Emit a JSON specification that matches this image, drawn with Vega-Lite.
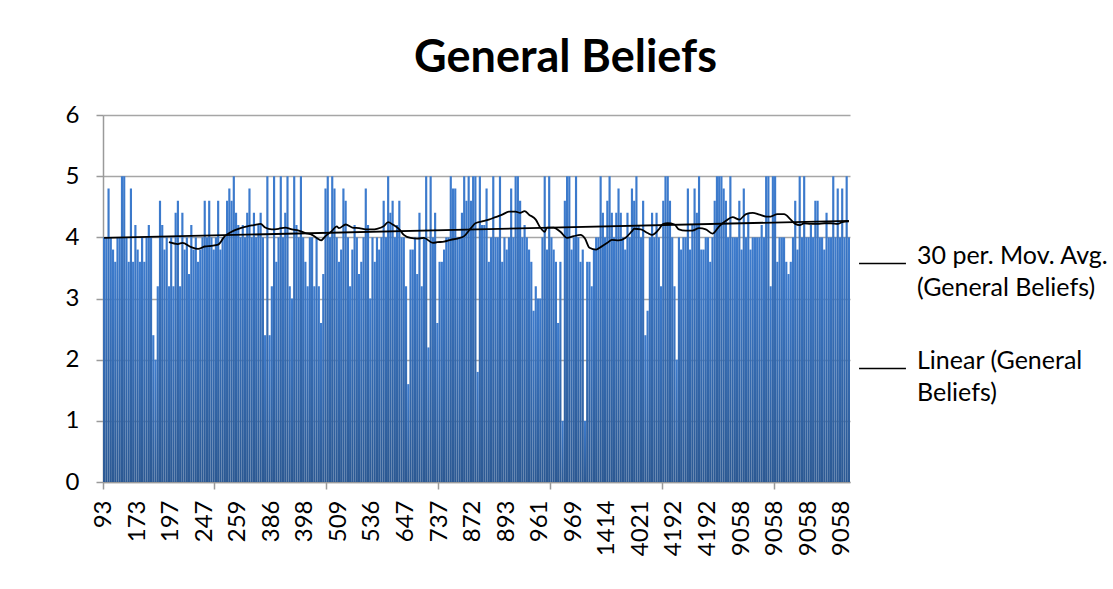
{
  "$schema": "https://vega.github.io/schema/vega-lite/v6.json",
  "autosize": {"type": "none"},
  "padding": {"left": 103, "top": 115, "right": 263, "bottom": 107},
  "width": 747,
  "height": 367,
  "background": "white",
  "config": {
    "font": "Lato",
    "view": {"stroke": null},
    "style": {"guide-label": {"lineHeight": 32}},
    "axis": {"labelColor": "black", "labelFontSize": 24, "labelFont": "Lato"}
  },
  "title": {
    "text": "General Beliefs",
    "font": "Lato",
    "fontSize": 45,
    "fontWeight": "bold",
    "color": "black",
    "anchor": "middle",
    "frame": "group",
    "baseline": "alphabetic",
    "offset": 43,
    "dy": 57,
    "dx": 89
  },
  "datasets": {
    "bars": [
      {"i":0,"v":4},{"i":1,"v":4},{"i":2,"v":4.8},{"i":3,"v":4},{"i":4,"v":3.8},{"i":5,"v":3.6},{"i":6,"v":4},{"i":7,"v":4},{"i":8,"v":5},{"i":9,"v":5},
      {"i":10,"v":4},{"i":11,"v":3.6},{"i":12,"v":4.8},{"i":13,"v":3.6},{"i":14,"v":4.2},{"i":15,"v":3.8},{"i":16,"v":3.6},{"i":17,"v":4},{"i":18,"v":3.6},{"i":19,"v":4},
      {"i":20,"v":4.2},{"i":21,"v":4},{"i":22,"v":2.4},{"i":23,"v":2},{"i":24,"v":3.2},{"i":25,"v":4.6},{"i":26,"v":4.2},{"i":27,"v":3.8},{"i":28,"v":4},{"i":29,"v":3.2},
      {"i":30,"v":4},{"i":31,"v":3.2},{"i":32,"v":4.4},{"i":33,"v":4.6},{"i":34,"v":3.2},{"i":35,"v":4.4},{"i":36,"v":3.8},{"i":37,"v":4},{"i":38,"v":3.4},{"i":39,"v":4.2},
      {"i":40,"v":3.8},{"i":41,"v":4},{"i":42,"v":3.6},{"i":43,"v":3.8},{"i":44,"v":4},{"i":45,"v":4.6},{"i":46,"v":4},{"i":47,"v":4.6},{"i":48,"v":4},{"i":49,"v":3.8},
      {"i":50,"v":4},{"i":51,"v":4.6},{"i":52,"v":3.8},{"i":53,"v":4},{"i":54,"v":4},{"i":55,"v":4.6},{"i":56,"v":4.8},{"i":57,"v":4.6},{"i":58,"v":5},{"i":59,"v":4.4},
      {"i":60,"v":4.2},{"i":61,"v":4},{"i":62,"v":4.2},{"i":63,"v":4},{"i":64,"v":4.4},{"i":65,"v":4.8},{"i":66,"v":4},{"i":67,"v":4.4},{"i":68,"v":4},{"i":69,"v":4.2},
      {"i":70,"v":4.4},{"i":71,"v":4},{"i":72,"v":2.4},{"i":73,"v":5},{"i":74,"v":2.4},{"i":75,"v":3.2},{"i":76,"v":5},{"i":77,"v":3.6},{"i":78,"v":4},{"i":79,"v":5},
      {"i":80,"v":4},{"i":81,"v":4.4},{"i":82,"v":5},{"i":83,"v":3.2},{"i":84,"v":3},{"i":85,"v":5},{"i":86,"v":4.2},{"i":87,"v":4},{"i":88,"v":5},{"i":89,"v":4},
      {"i":90,"v":3.6},{"i":91,"v":3.2},{"i":92,"v":4},{"i":93,"v":4},{"i":94,"v":3.2},{"i":95,"v":4},{"i":96,"v":3.2},{"i":97,"v":2.6},{"i":98,"v":3.4},{"i":99,"v":4.8},
      {"i":100,"v":5},{"i":101,"v":4},{"i":102,"v":5},{"i":103,"v":4.8},{"i":104,"v":4},{"i":105,"v":3.6},{"i":106,"v":3.8},{"i":107,"v":4.8},{"i":108,"v":4.6},{"i":109,"v":4},
      {"i":110,"v":3.2},{"i":111,"v":3.8},{"i":112,"v":4.2},{"i":113,"v":4},{"i":114,"v":3.4},{"i":115,"v":3.6},{"i":116,"v":4},{"i":117,"v":4.8},{"i":118,"v":4.2},{"i":119,"v":3},
      {"i":120,"v":4},{"i":121,"v":3.6},{"i":122,"v":4},{"i":123,"v":3.8},{"i":124,"v":4},{"i":125,"v":4.6},{"i":126,"v":4},{"i":127,"v":5},{"i":128,"v":4.4},{"i":129,"v":4.6},
      {"i":130,"v":4},{"i":131,"v":4.2},{"i":132,"v":4.6},{"i":133,"v":4},{"i":134,"v":4},{"i":135,"v":3.2},{"i":136,"v":1.6},{"i":137,"v":3.8},{"i":138,"v":3.8},{"i":139,"v":4},
      {"i":140,"v":3.4},{"i":141,"v":4.4},{"i":142,"v":3.2},{"i":143,"v":4},{"i":144,"v":5},{"i":145,"v":2.2},{"i":146,"v":5},{"i":147,"v":4},{"i":148,"v":4.4},{"i":149,"v":2.6},
      {"i":150,"v":3.6},{"i":151,"v":3.6},{"i":152,"v":3.8},{"i":153,"v":4},{"i":154,"v":4},{"i":155,"v":5},{"i":156,"v":4.8},{"i":157,"v":4.8},{"i":158,"v":4},{"i":159,"v":4},
      {"i":160,"v":4.4},{"i":161,"v":5},{"i":162,"v":4.6},{"i":163,"v":5},{"i":164,"v":4.6},{"i":165,"v":5},{"i":166,"v":5},{"i":167,"v":1.8},{"i":168,"v":5},{"i":169,"v":4.2},
      {"i":170,"v":4.2},{"i":171,"v":4.8},{"i":172,"v":3.6},{"i":173,"v":4},{"i":174,"v":5},{"i":175,"v":4},{"i":176,"v":4},{"i":177,"v":5},{"i":178,"v":3.6},{"i":179,"v":4},
      {"i":180,"v":3.8},{"i":181,"v":4},{"i":182,"v":4.8},{"i":183,"v":4},{"i":184,"v":5},{"i":185,"v":5},{"i":186,"v":4.6},{"i":187,"v":4},{"i":188,"v":4.2},{"i":189,"v":4},
      {"i":190,"v":3.8},{"i":191,"v":3.6},{"i":192,"v":2.8},{"i":193,"v":3.2},{"i":194,"v":3},{"i":195,"v":3},{"i":196,"v":4},{"i":197,"v":5},{"i":198,"v":3.8},{"i":199,"v":5},
      {"i":200,"v":4},{"i":201,"v":3.8},{"i":202,"v":3.6},{"i":203,"v":2.6},{"i":204,"v":3.6},{"i":205,"v":1},{"i":206,"v":4.6},{"i":207,"v":5},{"i":208,"v":5},{"i":209,"v":3.8},
      {"i":210,"v":4},{"i":211,"v":5},{"i":212,"v":4},{"i":213,"v":3.6},{"i":214,"v":3.8},{"i":215,"v":1},{"i":216,"v":3.6},{"i":217,"v":3.6},{"i":218,"v":3.2},{"i":219,"v":3.8},
      {"i":220,"v":4},{"i":221,"v":4},{"i":222,"v":5},{"i":223,"v":4.4},{"i":224,"v":4},{"i":225,"v":4.6},{"i":226,"v":5},{"i":227,"v":4.4},{"i":228,"v":4},{"i":229,"v":4.4},
      {"i":230,"v":4.8},{"i":231,"v":4.4},{"i":232,"v":4},{"i":233,"v":3.8},{"i":234,"v":4.4},{"i":235,"v":4},{"i":236,"v":4.8},{"i":237,"v":4.6},{"i":238,"v":5},{"i":239,"v":4.2},
      {"i":240,"v":4},{"i":241,"v":4.6},{"i":242,"v":2.4},{"i":243,"v":2.8},{"i":244,"v":4},{"i":245,"v":4.4},{"i":246,"v":4},{"i":247,"v":4.4},{"i":248,"v":4},{"i":249,"v":3.2},
      {"i":250,"v":4.6},{"i":251,"v":5},{"i":252,"v":5},{"i":253,"v":4.6},{"i":254,"v":4},{"i":255,"v":3.2},{"i":256,"v":2},{"i":257,"v":4},{"i":258,"v":3.8},{"i":259,"v":4},
      {"i":260,"v":4},{"i":261,"v":4.8},{"i":262,"v":3.8},{"i":263,"v":4.2},{"i":264,"v":4.8},{"i":265,"v":4.4},{"i":266,"v":5},{"i":267,"v":3.8},{"i":268,"v":3.8},{"i":269,"v":4},
      {"i":270,"v":4},{"i":271,"v":3.6},{"i":272,"v":4},{"i":273,"v":4.6},{"i":274,"v":5},{"i":275,"v":5},{"i":276,"v":5},{"i":277,"v":4.8},{"i":278,"v":4.6},{"i":279,"v":4},
      {"i":280,"v":5},{"i":281,"v":4},{"i":282,"v":4},{"i":283,"v":4},{"i":284,"v":4.6},{"i":285,"v":3.8},{"i":286,"v":4.8},{"i":287,"v":4},{"i":288,"v":4.4},{"i":289,"v":3.8},
      {"i":290,"v":4},{"i":291,"v":4},{"i":292,"v":4},{"i":293,"v":4},{"i":294,"v":4.2},{"i":295,"v":4},{"i":296,"v":5},{"i":297,"v":5},{"i":298,"v":3.2},{"i":299,"v":5},
      {"i":300,"v":5},{"i":301,"v":3.6},{"i":302,"v":4},{"i":303,"v":4},{"i":304,"v":4},{"i":305,"v":3.6},{"i":306,"v":3.4},{"i":307,"v":3.6},{"i":308,"v":4},{"i":309,"v":4.6},
      {"i":310,"v":3.8},{"i":311,"v":5},{"i":312,"v":4},{"i":313,"v":5},{"i":314,"v":4},{"i":315,"v":4},{"i":316,"v":4.2},{"i":317,"v":4},{"i":318,"v":4.6},{"i":319,"v":4.6},
      {"i":320,"v":4},{"i":321,"v":4},{"i":322,"v":3.8},{"i":323,"v":4.4},{"i":324,"v":4},{"i":325,"v":4},{"i":326,"v":5},{"i":327,"v":4},{"i":328,"v":4.8},{"i":329,"v":4},
      {"i":330,"v":4.8},{"i":331,"v":4},{"i":332,"v":5},{"i":333,"v":4}
    ],
    "ma": [
      {"i":29,"v":3.92},{"i":33,"v":3.89},{"i":35,"v":3.91},{"i":39,"v":3.84},{"i":42,"v":3.81},{"i":45,"v":3.85},{"i":48,"v":3.86},{"i":51,"v":3.88},{"i":54,"v":4.02},{"i":56,"v":4.07},
      {"i":58,"v":4.11},{"i":61,"v":4.15},{"i":64,"v":4.18},{"i":67,"v":4.2},{"i":70,"v":4.22},{"i":72,"v":4.16},{"i":75,"v":4.13},{"i":78,"v":4.14},{"i":81,"v":4.16},{"i":84,"v":4.13},
      {"i":87,"v":4.11},{"i":90,"v":4.07},{"i":93,"v":4.04},{"i":95,"v":3.99},{"i":97,"v":3.95},{"i":99,"v":4.02},{"i":102,"v":4.11},{"i":104,"v":4.18},{"i":105,"v":4.15},{"i":108,"v":4.21},
      {"i":111,"v":4.16},{"i":114,"v":4.15},{"i":117,"v":4.13},{"i":120,"v":4.13},{"i":122,"v":4.14},{"i":125,"v":4.18},{"i":127,"v":4.25},{"i":129,"v":4.21},{"i":132,"v":4.13},{"i":134,"v":4.04},
      {"i":137,"v":3.99},{"i":140,"v":3.98},{"i":143,"v":3.99},{"i":147,"v":3.91},{"i":149,"v":3.92},{"i":152,"v":3.93},{"i":155,"v":3.96},{"i":158,"v":3.98},{"i":161,"v":4.02},{"i":164,"v":4.15},
      {"i":166,"v":4.23},{"i":169,"v":4.26},{"i":172,"v":4.29},{"i":175,"v":4.33},{"i":178,"v":4.37},{"i":181,"v":4.42},{"i":184,"v":4.42},{"i":186,"v":4.4},{"i":188,"v":4.43},{"i":190,"v":4.37},
      {"i":193,"v":4.29},{"i":195,"v":4.16},{"i":197,"v":4.09},{"i":198,"v":4.16},{"i":201,"v":4.16},{"i":204,"v":4.09},{"i":207,"v":3.99},{"i":210,"v":4.02},{"i":213,"v":4.04},{"i":215,"v":3.98},
      {"i":217,"v":3.83},{"i":220,"v":3.8},{"i":222,"v":3.84},{"i":225,"v":3.91},{"i":227,"v":3.96},{"i":230,"v":3.95},{"i":233,"v":3.99},{"i":236,"v":4.1},{"i":237,"v":4.14},{"i":240,"v":4.13},
      {"i":243,"v":4.07},{"i":245,"v":4.04},{"i":248,"v":4.13},{"i":250,"v":4.22},{"i":252,"v":4.23},{"i":255,"v":4.21},{"i":257,"v":4.13},{"i":260,"v":4.11},{"i":263,"v":4.11},{"i":266,"v":4.15},
      {"i":269,"v":4.13},{"i":272,"v":4.06},{"i":275,"v":4.18},{"i":278,"v":4.27},{"i":281,"v":4.33},{"i":284,"v":4.29},{"i":287,"v":4.38},{"i":290,"v":4.4},{"i":293,"v":4.37},{"i":296,"v":4.34},
      {"i":298,"v":4.34},{"i":301,"v":4.38},{"i":304,"v":4.38},{"i":307,"v":4.29},{"i":309,"v":4.22},{"i":311,"v":4.2},{"i":313,"v":4.23},{"i":316,"v":4.22},{"i":319,"v":4.22},{"i":322,"v":4.23},
      {"i":325,"v":4.23},{"i":328,"v":4.22},{"i":330,"v":4.25},{"i":333,"v":4.26}
    ],
    "trend": [
      {"i":0,"v":3.99},{"i":333,"v":4.27}
    ]
  },
  "resolve": {"axis": {"x": "independent"}},
  "layer": [
    {
      "data": {"name": "bars"},
      "mark": {
        "type": "bar",
        "color": {
          "gradient": "linear",
          "x1": 0, "y1": 0, "x2": 0, "y2": 1,
          "stops": [
            {"offset": 0, "color": "#3d7ccf"},
            {"offset": 1, "color": "#2c5993"}
          ]
        }
      },
      "encoding": {
        "x": {
          "field": "i",
          "type": "ordinal",
          "scale": {"paddingInner": 0.03, "paddingOuter": 0},
          "axis": {
            "orient": "bottom",
            "title": null,
            "values": [0,15,30,45,60,75,90,105,120,135,150,165,180,195,210,225,240,255,270,285,300,315,330],
            "labelExpr": "['93','173','197','247','259','386','398','509','536','647','737','872','893','961','969','1414','4021','4192','4192','9058','9058','9058','9058'][datum.value/15]",
            "labelAngle": -90,
            "labelAlign": "right",
            "labelBaseline": "middle",
            "labelPadding": 18,
            "labelFontSize": 24,
            "labelColor": "black",
            "ticks": false,
            "tickSize": 0,
            "domain": true,
            "domainColor": "#9a9a9a",
            "domainWidth": 1.5,
            "grid": false,
            "labelOverlap": false
          }
        },
        "y": {
          "field": "v",
          "type": "quantitative",
          "scale": {"domain": [0, 6], "nice": false},
          "axis": {
            "title": null,
            "values": [0,1,2,3,4,5,6],
            "format": "d",
            "labelFontSize": 24,
            "labelColor": "black",
            "labelPadding": 17,
            "tickSize": 7,
            "tickColor": "#9a9a9a",
            "tickWidth": 1.5,
            "domainColor": "#9a9a9a",
            "domainWidth": 1.5,
            "grid": true,
            "gridColor": "#a6a6a6",
            "gridWidth": 1.5
          }
        }
      }
    },
    {
      "data": {"name": "ma"},
      "mark": {"type": "line", "strokeWidth": 1.8, "interpolate": "monotone"},
      "encoding": {
        "x": {
          "field": "i",
          "type": "ordinal",
          "axis": {
            "orient": "bottom",
            "title": null,
            "values": [0,50,100,150,200,250,300],
            "bandPosition": 0,
            "labels": false,
            "ticks": true,
            "tickSize": 7,
            "tickColor": "#9a9a9a",
            "tickWidth": 1.5,
            "domain": false,
            "grid": false
          }
        },
        "y": {"field": "v", "type": "quantitative", "scale": {"domain": [0, 6], "nice": false}, "axis": {"title": null}},
        "color": {
          "datum": "30 per. Mov. Avg. (General Beliefs)",
          "type": "nominal",
          "scale": {
            "domain": ["30 per. Mov. Avg. (General Beliefs)", "Linear (General Beliefs)"],
            "range": ["black", "black"]
          },
          "legend": {
            "title": null,
            "orient": "none",
            "legendX": 755,
            "legendY": 124,
            "symbolType": "stroke",
            "symbolSize": 2200,
            "symbolStrokeWidth": 1.5,
            "symbolStrokeColor": "black",
            "labelFontSize": 25,
            "labelColor": "black",
            "labelOffset": 10,
            "labelLimit": 300,
            "labelBaseline": "alphabetic",
            "rowPadding": 43,
            "labelExpr": "datum.label == '30 per. Mov. Avg. (General Beliefs)' ? ['30 per. Mov. Avg.', '(General Beliefs)'] : ['Linear (General', 'Beliefs)']"
          }
        }
      }
    },
    {
      "data": {"name": "trend"},
      "mark": {"type": "line", "strokeWidth": 1.8},
      "encoding": {
        "x": {"field": "i", "type": "ordinal", "axis": null},
        "y": {"field": "v", "type": "quantitative", "scale": {"domain": [0, 6], "nice": false}, "axis": {"title": null}},
        "color": {"datum": "Linear (General Beliefs)", "type": "nominal"}
      }
    }
  ]
}
